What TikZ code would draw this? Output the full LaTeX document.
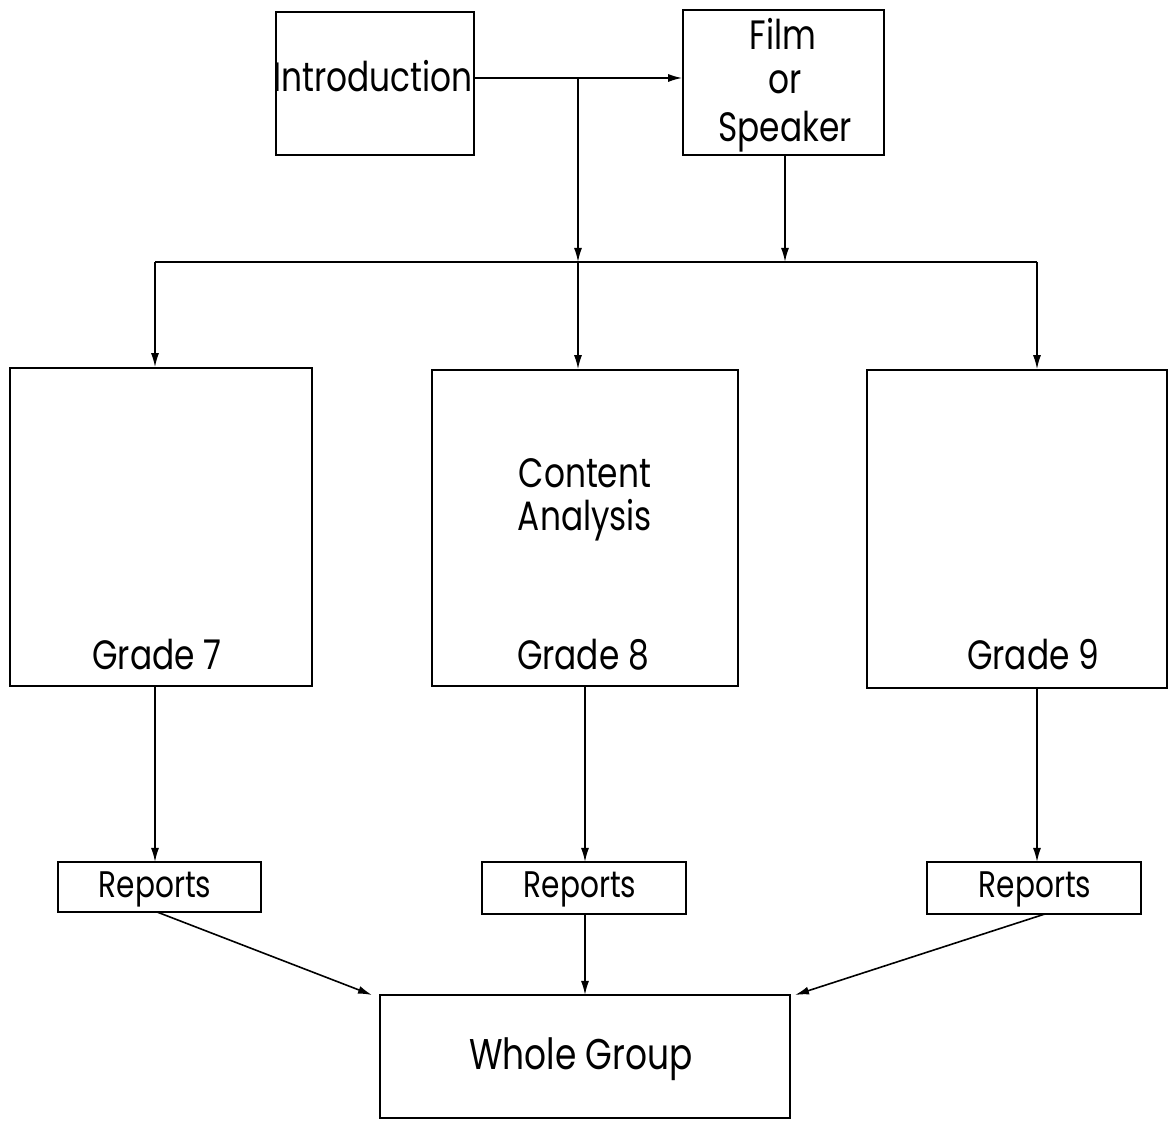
\documentclass[tikz,border=0pt]{standalone}
\usepackage{fontspec}
\setmainfont{Poppins}[FakeStretch=0.8]
\usetikzlibrary{arrows.meta}
\begin{document}
\begin{tikzpicture}[x=0.5pt,y=-0.5pt,
  box/.style={draw,line width=0.8pt,rectangle,inner sep=0pt},
  arr/.style={line width=0.8pt,-{Latex[length=7pt,width=4pt]}},
  ln/.style={line width=0.8pt},
  lbl/.style={font=\fontsize{20.5}{23}\selectfont,inner sep=0pt,anchor=base},
  lbls/.style={font=\fontsize{18.5}{22}\selectfont,inner sep=0pt,anchor=base}]
\useasboundingbox (0,0) rectangle (1169,1127);
% boxes
\node[box,minimum width=99pt,minimum height=71.5pt] (intro) at (375,83.5) {};
\node[box,minimum width=100.5pt,minimum height=72.5pt] (film) at (783.5,82.5) {};
\node[box,minimum width=151pt,minimum height=159pt] (g7) at (161,527) {};
\node[box,minimum width=153pt,minimum height=158pt] (g8) at (585,528) {};
\node[box,minimum width=150pt,minimum height=159pt] (g9) at (1017,529) {};
\node[box,minimum width=101.5pt,minimum height=25pt] (r7) at (159.5,887) {};
\node[box,minimum width=102pt,minimum height=26pt] (r8) at (584,888) {};
\node[box,minimum width=107pt,minimum height=26pt] (r9) at (1034,888) {};
\node[box,minimum width=205pt,minimum height=61.5pt] (wg) at (585,1056.5) {};
% texts
\node[lbl] (tintro) at (373,92) {Introduction};
\node[lbl] (tfilm1) at (783,50) {Film};
\node[lbl] (tfilm2) at (785,94) {or};
\node[lbl] (tfilm3) at (785,142) {Speaker};
\node[lbl] (tca1) at (585,488) {Content};
\node[lbl] (tca2) at (585,531) {Analysis};
\node[lbl] (tg7) at (157,670) {Grade 7};
\node[lbl] (tg8) at (583,670) {Grade 8};
\node[lbl] (tg9) at (1033,670) {Grade 9};
\node[lbls] (tr7) at (155,898) {Reports};
\node[lbls] (tr8) at (580,898) {Reports};
\node[lbls] (tr9) at (1035,898) {Reports};
\node[lbl,font=\fontsize{21.5}{24}\selectfont] (twg) at (581,1070) {Whole Group};
% connector coordinates
\coordinate (j1) at (578,78);
\coordinate (bl) at (155,262);
\coordinate (br) at (1037,262);
\coordinate (bm) at (578,262);
\coordinate (bf) at (785,262);
% connectors
\draw[arr] (intro.east |- j1) -- (film.west |- j1);
\draw[arr] (j1) -- (bm);
\draw[arr] (bm) -- (bm |- g8.north);
\draw[arr] (bf |- film.south) -- (bf);
\draw[ln] (bl) -- (br);
\draw[arr] (bl) -- (bl |- g7.north);
\draw[arr] (br) -- (br |- g9.north);
\draw[arr] (155,686) -- (155,862);
\draw[arr] (585,686) -- (585,862);
\draw[arr] (1037,688) -- (1037,862);
\coordinate (r7b) at (157,912);
\coordinate (r9b) at (1045,914);
\coordinate (wgl) at (372,995);
\coordinate (wgr) at (795,995);
\draw[arr] (r7b) -- (wgl);
\draw[arr] (585,914) -- (585,995);
\draw[arr] (r9b) -- (wgr);
\end{tikzpicture}
\end{document}
